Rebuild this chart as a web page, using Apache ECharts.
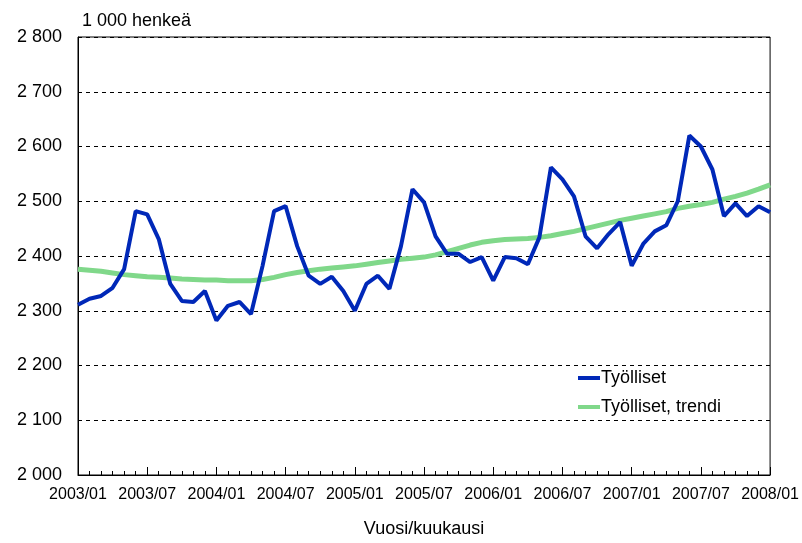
<!DOCTYPE html>
<html>
<head>
<meta charset="utf-8">
<script src="https://cdn.jsdelivr.net/npm/echarts@6/dist/echarts.min.js"></script>
<style>
  html, body { margin: 0; padding: 0; background: #fff; }
  #chart { width: 802px; height: 543px; }
</style>
</head>
<body>
<div id="chart"></div>
<script>
// kuukaudet 2003/01 - 2008/01
var months = [];
for (var y = 2003; y <= 2008; y++) {
  for (var m = 1; m <= 12; m++) {
    if (y === 2008 && m > 1) break;
    months.push(y + '/' + (m < 10 ? '0' + m : m));
  }
}

// Työlliset, 1 000 henkeä
var tyolliset = [
  2311, 2322, 2327, 2342, 2376, 2482, 2476, 2431, 2349, 2318, 2316, 2336,
  2282, 2309, 2316, 2294, 2382, 2482, 2491, 2418, 2364, 2349, 2362, 2336,
  2300, 2349, 2364, 2340, 2418, 2522, 2498, 2436, 2404, 2404, 2389, 2398,
  2355, 2398, 2396, 2385, 2434, 2562, 2540, 2509, 2436, 2414, 2440, 2462,
  2382, 2422, 2445, 2456, 2500, 2620, 2600, 2558, 2473, 2496, 2473, 2491,
  2480
];

// Työlliset, trendi
var trendi = [
  2376, 2374, 2372, 2369, 2366, 2364, 2362, 2361, 2360, 2358, 2357, 2356,
  2356, 2355, 2355, 2355, 2357, 2361, 2366, 2370, 2373, 2376, 2378, 2380,
  2382, 2385, 2388, 2391, 2394, 2396, 2398, 2402, 2408, 2414, 2420, 2425,
  2428, 2430, 2431, 2432, 2434, 2437, 2441, 2445, 2450, 2455, 2460, 2465,
  2469, 2473, 2477, 2481, 2487, 2491, 2494, 2498, 2504, 2509, 2515, 2522,
  2530
];

var chart = echarts.init(document.getElementById('chart'));
var font = 'Liberation Sans, Arial, sans-serif';

chart.setOption({
  animation: false,
  textStyle: { fontFamily: font, color: '#000' },
  title: {
    text: '1 000 henkeä',
    left: 77,
    top: 7,
    textStyle: { fontSize: 18, fontWeight: 'normal', color: '#000', fontFamily: font }
  },
  legend: {
    orient: 'vertical',
    left: 573,
    top: 364,
    itemGap: 11,
    itemWidth: 22,
    itemHeight: 4,
    icon: 'rect',
    textStyle: { fontSize: 18, color: '#000', fontFamily: font, padding: [0, 0, 0, -4] },
    data: ['Työlliset', 'Työlliset, trendi']
  },
  grid: {
    left: 78,
    right: 28,
    top: 37,
    bottom: 66,
    show: true,
    borderColor: '#000',
    borderWidth: 1,
    backgroundColor: 'transparent'
  },
  xAxis: [{
    type: 'category',
    data: months,
    boundaryGap: false,
    name: 'Vuosi/kuukausi',
    nameLocation: 'middle',
    nameGap: 45,
    nameTextStyle: { fontSize: 18, color: '#000', fontFamily: font },
    axisLine: { lineStyle: { color: '#000', width: 1 } },
    axisTick: { interval: 0, inside: true, length: 4, lineStyle: { color: '#000' } },
    axisLabel: { interval: 5, margin: 12, fontSize: 16, color: '#000', fontFamily: font },
    splitLine: { show: false }
  }, {
    type: 'category',
    data: months,
    boundaryGap: false,
    position: 'bottom',
    axisLine: { show: false },
    axisTick: { interval: 5, inside: true, length: 8, lineStyle: { color: '#000' } },
    axisLabel: { show: false },
    splitLine: { show: false }
  }],
  yAxis: {
    type: 'value',
    min: 2000,
    max: 2800,
    interval: 100,
    axisLine: { show: true, lineStyle: { color: '#000' } },
    axisTick: { show: false },
    axisLabel: {
      margin: 16,
      fontSize: 18,
      color: '#000',
      fontFamily: font,
      formatter: function (v) {
        var s = String(v);
        return s.slice(0, s.length - 3) + ' ' + s.slice(-3);
      }
    },
    splitLine: { lineStyle: { color: '#000', type: [4, 4], width: 1 } }
  },
  series: [{
    name: 'Työlliset',
    type: 'line',
    data: tyolliset,
    symbol: 'none',
    z: 3,
    color: '#0028b8',
    lineStyle: { color: '#0028b8', width: 4 }
  }, {
    name: 'Työlliset, trendi',
    type: 'line',
    data: trendi,
    symbol: 'none',
    z: 2,
    color: '#80d88a',
    lineStyle: { color: '#80d88a', width: 5 }
  }]
});
</script>
</body>
</html>
